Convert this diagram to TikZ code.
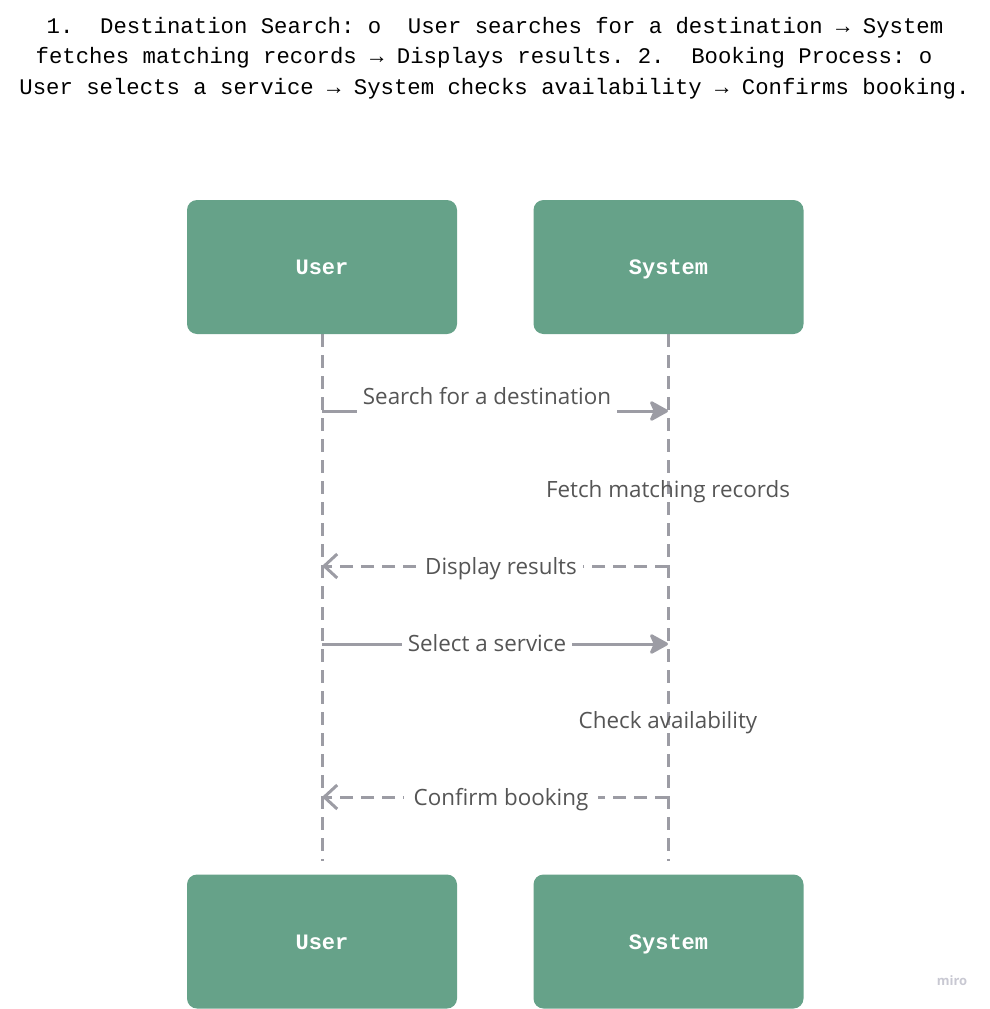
\documentclass[tikz,border=0pt]{standalone}
\usepackage{fontspec}
\setmainfont{Open Sans}
\setmonofont{Liberation Mono}
\usetikzlibrary{arrows.meta}
\definecolor{actorgreen}{HTML}{66A289}
\definecolor{linegray}{HTML}{9C9CA4}
\definecolor{textgray}{HTML}{555555}
\definecolor{markgray}{HTML}{C8C8D2}
\pgfdeclarelayer{bg}
\pgfsetlayers{bg,main}
\tikzset{
    actor/.style={rectangle, rounded corners=10pt, fill=actorgreen, minimum width=270pt, minimum height=134pt, text=white, text height=19pt, text depth=4pt, font=\ttfamily\bfseries\fontsize{22}{26}\selectfont},
    headline/.style={font=\ttfamily\fontsize{22.3}{26}\selectfont, inner sep=0pt}
}
\tikzset{msglabel/.style={fill=white, text=textgray, font=\fontsize{22.4}{26}\selectfont, text height=16pt, text depth=5pt, inner xsep=6pt, minimum height=38pt}}
\tikzset{note/.style={text=textgray, font=\fontsize{22.4}{26}\selectfont, text height=16pt, text depth=5pt, inner sep=0pt}}

\begin{document}
\begin{tikzpicture}[x=1pt, y=-1pt]
        \useasboundingbox (0,0) rectangle (990,1009);
        \node (t1) [headline] at (495,28) {1.~~Destination Search: o~~User searches for a destination → System};
        \node (t2) [headline] at (484,58) {fetches matching records → Displays results. 2.~~Booking Process: o};
        \node (t3) [headline] at (494.5,89) {User selects a service → System checks availability → Confirms booking.};
        \node (user) [actor] at (322,267) {User};
        \node (sys) [actor] at (668.5,267) {System};
        \node (user2) [actor] at (322,941.5) {User};
        \node (sys2) [actor] at (668.5,941.5) {System};
        \coordinate (m1u) at (322,411);
        \coordinate (m1s) at (668,411);
        \coordinate (m2u) at (322,566);
        \coordinate (m2s) at (668,566);
        \coordinate (m3u) at (322,644);
        \coordinate (m3s) at (668,644);
        \coordinate (m4u) at (322,797);
        \coordinate (m4s) at (668,797);
        \begin{pgfonlayer}{bg}
                \draw (user) edge [draw=linegray, line width=3pt, dash pattern=on 13pt off 8pt, shorten >=13pt] (user2);
                \draw (sys) edge [draw=linegray, line width=3pt, dash pattern=on 13pt off 8pt, shorten >=13pt] (sys2);
                \draw (m1u) edge [draw=linegray, line width=3pt, -{Stealth[length=21pt, width=23pt, inset=5pt, round]}] (m1s);
                \draw (m2s) edge [draw=linegray, line width=3pt, dash pattern=on 13pt off 8pt, -{Straight Barb[length=13pt, width=24pt]}] (m2u);
                \draw (m3u) edge [draw=linegray, line width=3pt, -{Stealth[length=21pt, width=23pt, inset=5pt, round]}] (m3s);
                \draw (m4s) edge [draw=linegray, line width=3pt, dash pattern=on 13pt off 8pt, -{Straight Barb[length=13pt, width=24pt]}] (m4u);
        \end{pgfonlayer}
        \node (l1) [msglabel] at (487,399) {Search for a destination};
        \node (l2) [note] at (668,492) {Fetch matching records};
        \node (l3) [msglabel, minimum height=26pt] at (501,569) {Display results};
        \node (l4) [msglabel, minimum height=26pt] at (487,646) {Select a service};
        \node (l5) [note] at (668,723) {Check availability};
        \node (l6) [msglabel, minimum height=26pt, inner xsep=10pt] at (501,800) {Confirm booking};
        \node (miro) [text=markgray, font=\bfseries\fontsize{13}{15}\selectfont, inner sep=0pt] at (952,981) {miro};
\end{tikzpicture}
\end{document}
